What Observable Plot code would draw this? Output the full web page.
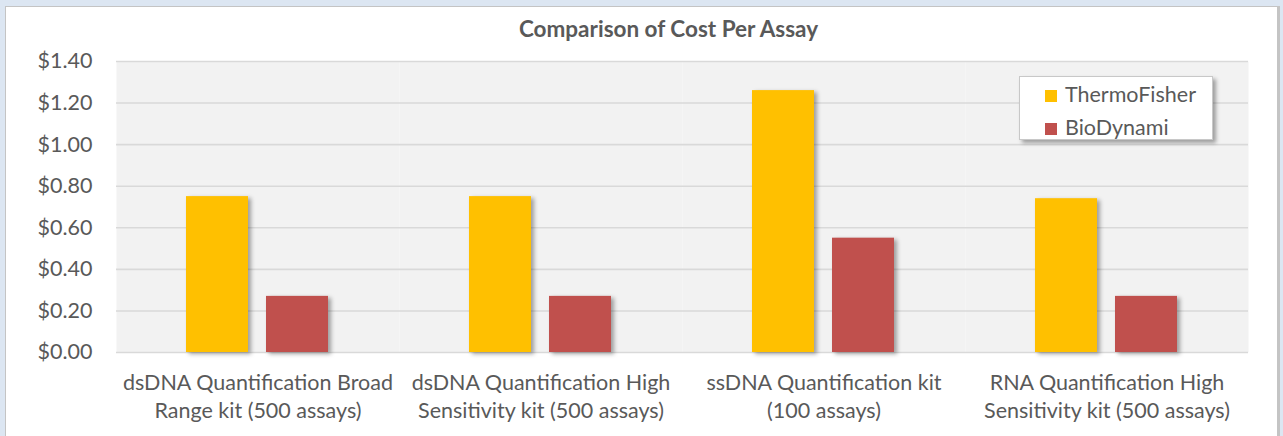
<!DOCTYPE html>
<html>
<head>
<meta charset="utf-8">
<script src="https://cdn.jsdelivr.net/npm/d3@7"></script>
<script src="https://cdn.jsdelivr.net/npm/@observablehq/plot@0.6"></script>
<style>
  html, body { margin: 0; padding: 0; }
  body { width: 1283px; height: 436px; background: #dce6f2; position: relative; overflow: hidden; font-family: Lato, "Open Sans", sans-serif; }
  #panel { position: absolute; left: 5px; top: 6px; width: 1271px; height: 440px; background: #fff;
           border-left: 1px solid #c4c4c4; border-top: 1px solid #c4c4c4; border-right: 3px solid #c4c4c4; }
  #title { position: relative; left: 27px; width: 1271px; height: 41px; line-height: 44px; text-align: center;
           font-weight: bold; font-size: 22.5px; color: #595959; }
  #legend { position: absolute; left: 1013px; top: 69px; width: 192px; height: 62px; background: #fff;
            border: 1px solid #c8c8c8; box-shadow: 3px 3px 4px rgba(0,0,0,0.35); font-size: 21.5px; color: #595959; }
  #legend .item { position: absolute; left: 25px; height: 24px; line-height: 24px; white-space: nowrap; }
  #legend .sw { display: inline-block; width: 12px; height: 12px; margin-right: 8px; vertical-align: 0px; }
  svg g[aria-label="bar"] { filter: drop-shadow(3px 2px 2px rgba(0,0,0,0.35)); }
</style>
</head>
<body>
<div id="panel">
  <div id="title">Comparison of Cost Per Assay</div>
  <div id="chart"></div>
  <div id="legend"></div>
</div>
<script>
const kits = [
  "dsDNA Quantification Broad\nRange kit (500 assays)",
  "dsDNA Quantification High\nSensitivity kit (500 assays)",
  "ssDNA Quantification kit\n(100 assays)",
  "RNA Quantification High\nSensitivity kit (500 assays)"
];
const series = ["ThermoFisher", "BioDynami"];
const thermoFisher = [0.75, 0.75, 1.26, 0.74];
const bioDynami = [0.27, 0.27, 0.55, 0.27];
const yTicks = [0, 0.2, 0.4, 0.6, 0.8, 1.0, 1.2, 1.4];
const colors = ["#FFC000", "#C0504D"];

const data = [];
kits.forEach((k, i) => {
  data.push({kit: k, vendor: series[0], cost: thermoFisher[i]});
  data.push({kit: k, vendor: series[1], cost: bioDynami[i]});
});

const chart = Plot.plot({
  width: 1271,
  height: 388,
  marginLeft: 108,
  marginRight: 28,
  marginTop: 13,
  marginBottom: 84,
  style: {fontFamily: "Lato, 'Open Sans', sans-serif", fontSize: "21.5px", color: "#595959", background: "transparent"},
  fx: {domain: kits, padding: 0, label: null},
  x: {domain: series, paddingInner: 0.222, paddingOuter: 0.863, axis: null},
  y: {domain: [0, 1.4], label: null},
  color: {domain: series, range: colors},
  marks: [
    Plot.frame({fill: "#f2f2f2", stroke: null}),
    Plot.ruleY(yTicks, {stroke: "#d9d9d9", strokeWidth: 1.6}),
    Plot.barY(data, {fx: "kit", x: "vendor", y: "cost", fill: "vendor"}),
    Plot.axisY({ticks: yTicks, tickFormat: d => "$" + d.toFixed(2), tickSize: 0, tickPadding: 24, fontSize: 21.5, label: null}),
    Plot.axisFx({anchor: "bottom", tickSize: 0, tickPadding: 17, fontSize: 21.5, lineHeight: 1.32, label: null})
  ]
});
document.getElementById("chart").appendChild(chart);

const legend = document.getElementById("legend");
series.forEach((s, i) => {
  const it = document.createElement("div");
  it.className = "item";
  it.style.top = (5 + i * 33) + "px";
  const sw = document.createElement("span");
  sw.className = "sw";
  sw.style.background = colors[i];
  it.appendChild(sw);
  it.appendChild(document.createTextNode(s));
  legend.appendChild(it);
});
</script>
</body>
</html>
